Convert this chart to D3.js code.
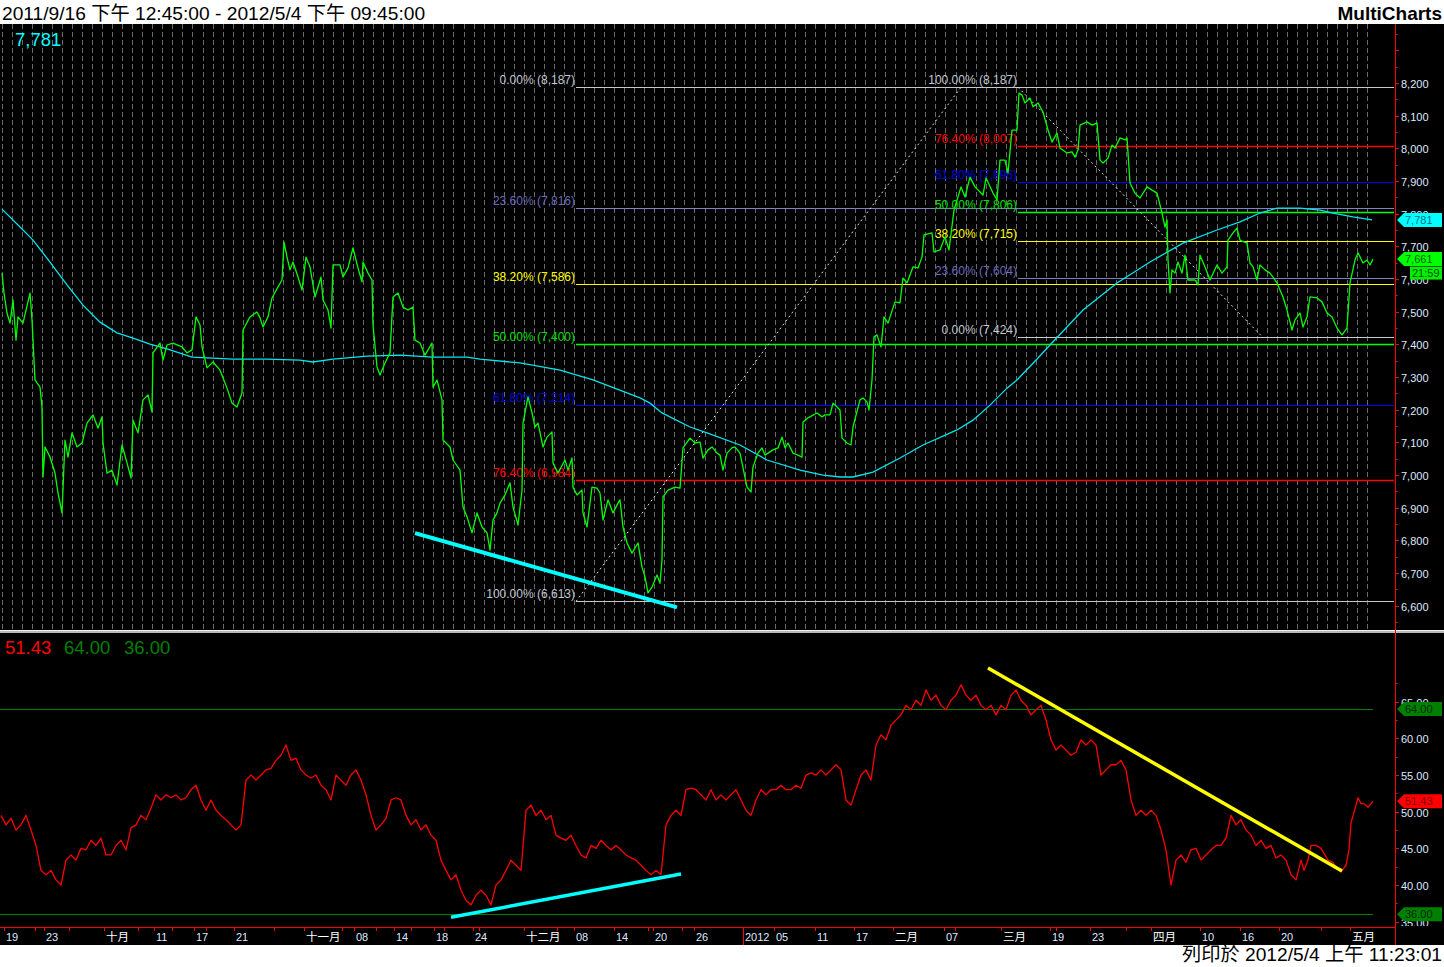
<!DOCTYPE html>
<html><head><meta charset="utf-8">
<script src="https://cdn.jsdelivr.net/npm/d3@7"></script>
<style>
html,body{margin:0;padding:0;background:#fff;overflow:hidden}
svg{display:block}
text{font-family:"Liberation Sans",Arial,"Noto Sans CJK TC",sans-serif}
</style></head><body>
<svg id="c" width="1444" height="967"></svg>
<script>
// ---------- DATA ----------
const titleText = "2011/9/16 下午 12:45:00 - 2012/5/4 下午 09:45:00";
const footerText = "列印於 2012/5/4 上午 11:23:01";
const brandText = "MultiCharts";

// price (bar, close)
const priceSeries = [[1,7618],[3,7557],[6,7496],[9,7465],[12,7536],[15,7413],[17,7484],[22,7465],[29,7557],[31,7475],[34,7291],[39,7269],[41,7208],[42,6994],[44,7086],[49,7055],[54,7006],[57,6945],[61,6884],[64,7107],[67,7055],[71,7129],[76,7086],[81,7098],[86,7159],[92,7184],[97,7144],[101,7178],[102,7098],[106,7006],[111,7015],[116,6969],[121,7092],[126,7037],[130,6991],[132,7168],[137,7129],[142,7230],[147,7245],[151,7193],[152,7374],[159,7404],[162,7352],[166,7398],[172,7404],[181,7392],[186,7374],[191,7383],[195,7484],[199,7459],[201,7392],[206,7328],[212,7346],[219,7321],[226,7266],[231,7220],[236,7208],[241,7251],[242,7444],[249,7484],[256,7499],[259,7481],[262,7453],[267,7484],[271,7542],[277,7576],[281,7597],[283,7713],[286,7667],[289,7628],[292,7652],[297,7606],[301,7566],[305,7667],[309,7637],[314,7545],[320,7606],[322,7536],[327,7505],[330,7450],[332,7643],[339,7643],[342,7606],[347,7634],[352,7695],[357,7634],[361,7591],[362,7652],[367,7618],[371,7597],[372,7459],[376,7331],[379,7306],[384,7343],[389,7374],[392,7545],[397,7557],[402,7514],[407,7505],[412,7514],[414,7413],[419,7404],[424,7367],[431,7404],[432,7269],[436,7291],[441,7230],[442,7107],[449,7086],[452,7046],[459,7015],[462,6902],[466,6872],[471,6823],[476,6884],[481,6841],[486,6823],[489,6770],[492,6862],[496,6884],[499,6914],[504,6939],[509,6976],[512,6902],[517,6847],[521,6954],[522,7159],[527,7239],[531,7190],[534,7147],[537,7159],[542,7086],[546,7116],[551,7132],[552,7037],[557,7006],[564,7046],[567,7015],[571,7052],[572,6963],[576,6939],[581,6954],[582,6884],[586,6841],[591,6963],[596,6960],[599,6945],[602,6862],[607,6924],[612,6884],[617,6914],[619,6924],[622,6841],[626,6792],[631,6761],[637,6792],[641,6718],[644,6688],[647,6639],[651,6657],[656,6694],[659,6669],[661,6740],[662,6933],[667,6954],[674,6963],[679,6960],[682,7083],[689,7113],[694,7098],[699,7101],[702,7052],[707,7077],[711,7086],[716,7067],[719,7061],[722,7015],[726,7067],[731,7083],[734,7086],[739,7067],[746,6963],[750,6948],[752,7025],[757,7067],[761,7083],[764,7061],[767,7067],[772,7077],[777,7083],[781,7116],[784,7083],[787,7098],[792,7067],[797,7061],[801,7055],[802,7162],[807,7175],[816,7190],[821,7178],[824,7184],[829,7184],[832,7220],[836,7208],[839,7199],[841,7113],[846,7098],[850,7092],[852,7147],[859,7230],[862,7236],[866,7224],[868,7199],[871,7291],[873,7423],[876,7429],[880,7392],[883,7484],[887,7465],[894,7530],[899,7527],[902,7603],[906,7588],[912,7637],[917,7634],[921,7667],[923,7735],[931,7741],[933,7683],[939,7689],[944,7729],[948,7689],[953,7811],[960,7882],[964,7851],[969,7912],[974,7882],[982,7857],[985,7909],[992,7863],[996,7842],[999,7964],[1004,7964],[1007,7925],[1011,8056],[1016,8056],[1018,8169],[1021,8163],[1024,8139],[1029,8154],[1032,8127],[1037,8139],[1042,8111],[1047,8056],[1051,8019],[1056,8047],[1059,8001],[1066,7986],[1071,7989],[1074,7973],[1077,7995],[1079,8071],[1086,8081],[1091,8071],[1096,8078],[1099,7964],[1102,7955],[1107,7970],[1111,8010],[1114,8001],[1119,8032],[1124,8026],[1126,8032],[1129,7894],[1134,7863],[1139,7848],[1146,7882],[1151,7872],[1156,7863],[1161,7802],[1164,7759],[1166,7781],[1167,7658],[1169,7557],[1171,7628],[1174,7618],[1177,7652],[1181,7618],[1184,7673],[1187,7597],[1194,7597],[1197,7582],[1199,7673],[1204,7637],[1209,7597],[1216,7643],[1221,7618],[1226,7637],[1227,7719],[1232,7741],[1236,7756],[1239,7719],[1246,7710],[1249,7649],[1252,7637],[1256,7597],[1259,7643],[1264,7628],[1269,7618],[1272,7606],[1276,7588],[1282,7545],[1286,7505],[1291,7444],[1294,7475],[1299,7496],[1302,7453],[1306,7484],[1309,7545],[1316,7542],[1321,7530],[1326,7496],[1331,7484],[1336,7450],[1341,7429],[1346,7450],[1349,7588],[1354,7658],[1357,7680],[1362,7649],[1366,7658],[1369,7643],[1372,7661]];

// moving average (bar, value)
const maSeries = [[1,7814],[19,7759],[32,7719],[49,7652],[66,7582],[82,7520],[99,7468],[116,7435],[132,7419],[149,7401],[166,7386],[182,7370],[191,7361],[232,7355],[266,7355],[299,7352],[312,7346],[332,7355],[366,7364],[399,7367],[432,7361],[466,7361],[479,7355],[519,7343],[559,7321],[592,7291],[639,7236],[649,7220],[661,7190],[689,7147],[706,7129],[739,7092],[766,7046],[799,7015],[822,7000],[839,6994],[852,6994],[872,7009],[899,7052],[922,7092],[956,7138],[972,7168],[989,7214],[1006,7266],[1016,7291],[1037,7358],[1049,7398],[1082,7505],[1116,7588],[1149,7652],[1182,7710],[1216,7750],[1239,7775],[1259,7802],[1276,7817],[1299,7817],[1319,7811],[1332,7802],[1352,7790],[1371,7781]];

// RSI (bar, value)
const rsiSeries = [[0,49.5],[5,48.2],[10,49.1],[15,47.5],[20,48.2],[25,49.5],[30,47.5],[35,45.4],[40,42.0],[45,41.4],[50,42.0],[55,40.7],[60,40.0],[65,43.4],[70,44.1],[75,43.4],[80,45.0],[85,44.8],[90,46.1],[95,45.4],[100,46.4],[105,44.1],[110,44.1],[115,45.4],[120,46.1],[125,44.8],[130,47.8],[135,48.2],[140,49.5],[145,48.9],[150,50.5],[155,52.3],[160,51.6],[165,52.3],[170,51.9],[175,52.3],[180,51.6],[185,51.9],[190,53.0],[195,53.6],[200,51.6],[205,50.2],[210,51.6],[215,50.2],[220,49.5],[225,48.9],[230,48.2],[235,47.5],[240,48.2],[245,54.3],[250,55.0],[255,54.3],[260,55.0],[265,55.7],[270,55.9],[275,57.0],[280,57.7],[285,59.1],[290,57.0],[295,57.3],[300,55.7],[305,55.0],[310,54.6],[315,55.0],[320,53.6],[325,53.0],[330,51.6],[335,55.0],[340,54.3],[345,53.6],[350,55.0],[355,55.7],[360,54.3],[365,52.3],[370,49.5],[375,47.5],[380,48.2],[385,49.1],[390,51.6],[395,51.9],[400,51.6],[405,49.5],[410,48.2],[415,48.9],[420,47.5],[425,48.2],[430,46.8],[435,46.1],[440,43.4],[445,42.0],[450,40.7],[455,41.4],[460,39.3],[465,37.9],[470,37.3],[475,38.6],[480,39.3],[485,38.6],[490,37.3],[495,40.0],[500,40.7],[505,42.0],[510,43.4],[515,42.7],[520,42.0],[525,50.2],[530,50.9],[535,49.5],[540,50.2],[545,48.9],[550,49.5],[555,46.8],[560,46.4],[565,46.1],[570,46.8],[575,45.4],[580,44.1],[585,43.7],[590,45.4],[595,45.0],[600,46.1],[605,45.4],[610,44.8],[615,45.4],[620,44.8],[625,44.1],[630,43.7],[635,43.4],[640,42.7],[645,42.0],[650,41.4],[655,42.0],[660,41.4],[665,48.2],[670,49.5],[675,50.2],[680,49.5],[685,53.0],[690,53.2],[695,53.0],[700,52.3],[705,51.6],[710,53.0],[715,51.6],[720,52.3],[725,51.6],[730,52.3],[735,53.0],[740,51.6],[745,50.2],[750,49.5],[755,51.6],[760,53.0],[765,52.3],[770,53.0],[775,53.0],[780,53.6],[785,53.0],[790,53.0],[795,53.6],[800,53.2],[805,55.0],[810,55.3],[815,55.0],[820,55.7],[825,55.0],[830,55.7],[835,56.4],[840,55.7],[845,51.6],[850,50.9],[855,53.0],[860,55.0],[865,55.7],[870,54.3],[875,59.1],[880,60.5],[885,59.8],[890,61.8],[895,62.5],[900,63.2],[905,64.5],[910,63.9],[915,65.2],[920,64.5],[925,66.6],[930,65.2],[935,65.9],[940,64.5],[945,63.9],[950,65.2],[955,65.9],[960,67.3],[965,65.9],[970,65.2],[975,65.9],[980,64.5],[985,63.9],[990,64.5],[995,63.2],[1000,64.5],[1005,63.9],[1010,65.9],[1015,66.6],[1020,65.2],[1025,64.5],[1030,63.2],[1035,63.9],[1040,64.5],[1045,62.5],[1050,59.8],[1055,58.4],[1060,59.1],[1065,58.4],[1070,57.7],[1075,58.1],[1080,59.8],[1085,59.1],[1090,59.8],[1095,59.1],[1100,55.0],[1105,55.7],[1110,56.4],[1115,56.4],[1120,57.0],[1125,55.7],[1130,51.6],[1135,49.5],[1140,50.2],[1145,49.5],[1150,50.2],[1155,49.5],[1160,47.5],[1165,44.8],[1170,40.0],[1175,43.4],[1180,44.1],[1185,43.1],[1190,44.8],[1195,45.0],[1200,43.4],[1205,44.1],[1210,44.8],[1215,45.4],[1220,45.4],[1225,46.4],[1230,49.5],[1235,48.2],[1240,48.9],[1245,47.5],[1250,46.8],[1255,45.4],[1260,46.1],[1265,45.0],[1270,45.4],[1275,43.7],[1280,44.1],[1285,43.4],[1290,41.4],[1295,40.7],[1300,43.4],[1303,42.0],[1307,43.4],[1310,45.4],[1315,45.4],[1320,45.0],[1327,43.4],[1332,43.1],[1335,42.3],[1340,41.8],[1345,42.7],[1348,44.8],[1350,48.5],[1353,49.9],[1357,51.9],[1360,51.1],[1363,51.1],[1367,50.6],[1370,51.1],[1372,51.43]];

const rsiUpper = 64, rsiLower = 36;
const lastPrice = 7661, lastMA = 7781, lastRSI = 51.43, barTimer = "21:59";

// Fibonacci retracements
const fib1Pct = [0, 23.6, 38.2, 50, 61.8, 76.4, 100];
const fib1Val = [8187, 7816, 7586, 7400, 7214, 6984, 6613];
const fib1Anchor = [[575, 6613], [960, 8187]];
const fib2Pct = [100, 76.4, 61.8, 50, 38.2, 23.6, 0];
const fib2Val = [8187, 8007, 7896, 7806, 7715, 7604, 7424];
const fib2Anchor = [[1017, 8187], [1261, 7424]];

// trend lines
const priceTrend = [[414, 6822], [676, 6595]];
const rsiTrendLow = [[450, 35.6], [680, 41.5]];
const rsiTrendHigh = [[987, 69.6], [1341, 41.9]];

// time axis
const timeLabels = ["19","23","十月","11","17","21","十一月","08","14","18","24","十二月","08","14","20","26","2012","05","11","17","二月","07","三月","19","23","四月","10","16","20","五月"];
const timeBars = [3,43,103,153,193,233,303,353,393,433,472,523,573,613,652,693,742,773,814,853,892,943,1000,1049,1089,1150,1199,1239,1278,1349];
const minorTimeBars = [34,68,137,171,205,273,341,375,410,443,478,556,647,681,954,1055,1125,1320];
const yearBar = 742;

// ---------- LAYOUT ----------
const svg = d3.select("#c");
const W = 1444, H = 967;
const axisX = 1395;
const pTop = 24, pBot = 630, rTop = 634, rBot = 927;

svg.append("rect").attr("width", W).attr("height", H).attr("fill", "#fff");
svg.append("rect").attr("x", 0).attr("y", 24).attr("width", W).attr("height", 921).attr("fill", "#000");

const x = d3.scaleLinear().domain([0, 1372]).range([1, 1373]);
const yP = d3.scaleLinear().domain([6600, 8200]).range([605.7, 83]);
const yR = d3.scaleLinear().domain([35, 65]).range([921.7, 701.7]);

const defs = svg.append("defs");
defs.append("clipPath").attr("id", "cp").append("rect").attr("x", 0).attr("y", pTop).attr("width", axisX).attr("height", pBot - pTop);
defs.append("clipPath").attr("id", "cr").append("rect").attr("x", 0).attr("y", rTop).attr("width", axisX).attr("height", rBot - rTop);
defs.append("clipPath").attr("id", "cra").append("rect").attr("x", axisX).attr("y", rTop).attr("width", 60).attr("height", rBot - rTop - 1);

// title / footer
svg.append("text").attr("x", 2).attr("y", 20).attr("font-size", 19.2).attr("fill", "#000").text(titleText);
svg.append("text").attr("x", 1442).attr("y", 20).attr("font-size", 19).attr("font-weight", "bold").attr("text-anchor", "end").attr("fill", "#000").text(brandText);
svg.append("text").attr("x", 1442).attr("y", 961).attr("font-size", 19.2).attr("text-anchor", "end").attr("fill", "#000").text(footerText);

// ---------- PRICE PANEL ----------
const gp = svg.append("g").attr("clip-path", "url(#cp)");
// vertical dashed grid
gp.append("g").selectAll("line").data(d3.range(0.7, 1370, 10.04)).join("line")
  .attr("x1", d => Math.round(x(d)) + 0.5).attr("x2", d => Math.round(x(d)) + 0.5)
  .attr("y1", pTop).attr("y2", pBot)
  .attr("stroke", "#6a6a6a").attr("stroke-width", 1).attr("stroke-dasharray", "5,3");

const fibColor = p => ({0: "#c8c8c8", 23.6: "#8080c8", 38.2: "#ffff00", 50: "#00ff00", 61.8: "#0000ff", 76.4: "#ff0000", 100: "#c8c8c8"})[p];
const fibText = p => ({0: "#c0c8d0", 23.6: "#6a6ab8", 38.2: "#ffff00", 50: "#00e000", 61.8: "#0000e0", 76.4: "#ff0000", 100: "#c0c8d0"})[p];
const fmt = d3.format(",");
function drawFib(pcts, vals, anchor) {
  const startX = x(anchor[0][0]);
  const g = gp.append("g");
  pcts.forEach((p, i) => {
    const yy = Math.round(yP(vals[i])) + 0.5;
    g.append("line").attr("x1", startX).attr("x2", axisX - 1).attr("y1", yy).attr("y2", yy)
      .attr("stroke", fibColor(p)).attr("stroke-width", (p === 76.4 || p === 50) ? 1.6 : 1.1);
    g.append("text").attr("x", startX - 1).attr("y", yy - 3.5).attr("text-anchor", "end")
      .attr("font-size", 12).attr("fill", fibText(p)).text(p.toFixed(2) + "% (" + fmt(vals[i]) + ")");
  });
  gp.append("line").attr("x1", x(anchor[0][0])).attr("y1", yP(anchor[0][1]))
    .attr("x2", x(anchor[1][0])).attr("y2", yP(anchor[1][1]))
    .attr("stroke", "#e0e0e0").attr("stroke-width", 1).attr("stroke-dasharray", "2,3");
}
drawFib(fib1Pct, fib1Val, fib1Anchor);
drawFib(fib2Pct, fib2Val, fib2Anchor);

const lineP = d3.line().x(d => x(d[0])).y(d => yP(d[1]));
gp.append("path").attr("d", lineP(maSeries)).attr("fill", "none").attr("stroke", "#00e8f0").attr("stroke-width", 1.3);
gp.append("path").attr("d", lineP(priceSeries)).attr("fill", "none").attr("stroke", "#00ff00").attr("stroke-width", 1.3).attr("stroke-linejoin", "round");
gp.append("line").attr("x1", x(priceTrend[0][0])).attr("y1", yP(priceTrend[0][1]))
  .attr("x2", x(priceTrend[1][0])).attr("y2", yP(priceTrend[1][1]))
  .attr("stroke", "#00ffff").attr("stroke-width", 4);

svg.append("text").attr("x", 15).attr("y", 46).attr("font-size", 18.5).attr("fill", "#00ffff").text(fmt(lastMA));

// separator
svg.append("rect").attr("x", 0).attr("y", 630).attr("width", W).attr("height", 3).attr("fill", "#b8b8b8");
svg.append("line").attr("x1", 0).attr("x2", W).attr("y1", 630.5).attr("y2", 630.5).attr("stroke", "#f0f0f0");

// ---------- RSI PANEL ----------
const gr = svg.append("g").attr("clip-path", "url(#cr)");
[rsiUpper, rsiLower].forEach(v => {
  const yy = Math.round(yR(v)) + 0.5;
  gr.append("line").attr("x1", 0).attr("x2", x(1372)).attr("y1", yy).attr("y2", yy).attr("stroke", "#008000");
});
const lineR = d3.line().x(d => x(d[0])).y(d => yR(d[1]));
gr.append("path").attr("d", lineR(rsiSeries)).attr("fill", "none").attr("stroke", "#ff0000").attr("stroke-width", 1.3).attr("stroke-linejoin", "round");
gr.append("line").attr("x1", x(rsiTrendLow[0][0])).attr("y1", yR(rsiTrendLow[0][1]))
  .attr("x2", x(rsiTrendLow[1][0])).attr("y2", yR(rsiTrendLow[1][1]))
  .attr("stroke", "#00ffff").attr("stroke-width", 3.5);
gr.append("line").attr("x1", x(rsiTrendHigh[0][0])).attr("y1", yR(rsiTrendHigh[0][1]))
  .attr("x2", x(rsiTrendHigh[1][0])).attr("y2", yR(rsiTrendHigh[1][1]))
  .attr("stroke", "#ffff00").attr("stroke-width", 3.5);

const legR = [[lastRSI.toFixed(2), "#ff0000", 5], [rsiUpper.toFixed(2), "#008000", 64], [rsiLower.toFixed(2), "#008000", 124]];
legR.forEach(d => svg.append("text").attr("x", d[2]).attr("y", 654).attr("font-size", 18.5).attr("fill", d[1]).text(d[0]));

// ---------- AXES ----------
const axisCol = "#dfe8ff";
svg.append("line").attr("x1", axisX + 0.5).attr("x2", axisX + 0.5).attr("y1", 24).attr("y2", 945).attr("stroke", "#ff0000");
// price axis
const ga = svg.append("g");
d3.range(6550, 8400, 50).forEach(v => {
  const yy = Math.round(yP(v)) + 0.5;
  if (yy < pTop || yy > pBot) return;
  const major = v % 100 === 0;
  ga.append("line").attr("x1", axisX).attr("x2", axisX + (major ? 4 : 2.5)).attr("y1", yy).attr("y2", yy).attr("stroke", "#ff0000");
  if (major && v >= 6600 && v <= 8200) ga.append("text").attr("x", 1401).attr("y", yy + 4).attr("font-size", 11).attr("fill", axisCol).text(fmt(v));
});
// rsi axis
const gra = svg.append("g").attr("clip-path", "url(#cra)");
d3.range(32.5, 70, 2.5).forEach(v => {
  const yy = Math.round(yR(v)) + 0.5;
  const major = v % 5 === 0;
  gra.append("line").attr("x1", axisX).attr("x2", axisX + (major ? 4 : 2.5)).attr("y1", yy).attr("y2", yy).attr("stroke", "#ff0000");
  if (major) gra.append("text").attr("x", 1401).attr("y", yy + 4).attr("font-size", 11).attr("fill", axisCol).text(v.toFixed(2));
});

// badges
function badge(yy, txt, bg, fg, arrow) {
  const g = svg.append("g");
  if (arrow) {
    g.append("path").attr("d", `M1397,${yy} L1404,${yy - 7} L1442,${yy - 7} L1442,${yy + 7} L1404,${yy + 7} Z`).attr("fill", bg);
    g.append("text").attr("x", 1405).attr("y", yy + 4).attr("font-size", 11).attr("fill", fg).text(txt);
  } else {
    g.append("rect").attr("x", 1410).attr("y", yy - 6.5).attr("width", 32).attr("height", 13).attr("fill", bg);
    g.append("text").attr("x", 1412).attr("y", yy + 4).attr("font-size", 11).attr("fill", fg).text(txt);
  }
}
badge(yP(lastMA), fmt(lastMA), "#00ffff", "#006f8a", true);
badge(yP(lastPrice), fmt(lastPrice), "#00ff00", "#006000", true);
badge(yP(lastPrice) + 14, barTimer, "#00ee00", "#005000", false);
badge(yR(rsiUpper), rsiUpper.toFixed(2), "#008000", "#002a00", true);
badge(yR(lastRSI), lastRSI.toFixed(2), "#ff0000", "#800000", true);
badge(yR(rsiLower), rsiLower.toFixed(2), "#008000", "#002a00", true);

// time axis
const gt = svg.append("g");
gt.append("line").attr("x1", 0).attr("x2", axisX).attr("y1", 927.5).attr("y2", 927.5).attr("stroke", "#ff0000");
timeBars.concat(minorTimeBars).forEach(b => {
  const xx = Math.round(x(b)) + 0.5;
  gt.append("line").attr("x1", xx).attr("x2", xx).attr("y1", 927).attr("y2", 931).attr("stroke", "#ff0000");
});
gt.append("line").attr("x1", Math.round(x(yearBar)) + 0.5).attr("x2", Math.round(x(yearBar)) + 0.5).attr("y1", 927).attr("y2", 945).attr("stroke", "#ff0000");
timeLabels.forEach((t, i) => {
  const cjk = /[^\x00-\x7f]/.test(t);
  gt.append("text").attr("x", x(timeBars[i]) + 2).attr("y", 941).attr("font-size", cjk ? 11.5 : 11)
    .attr("fill", cjk ? "#ffffff" : axisCol).text(t);
});
</script>
</body></html>
